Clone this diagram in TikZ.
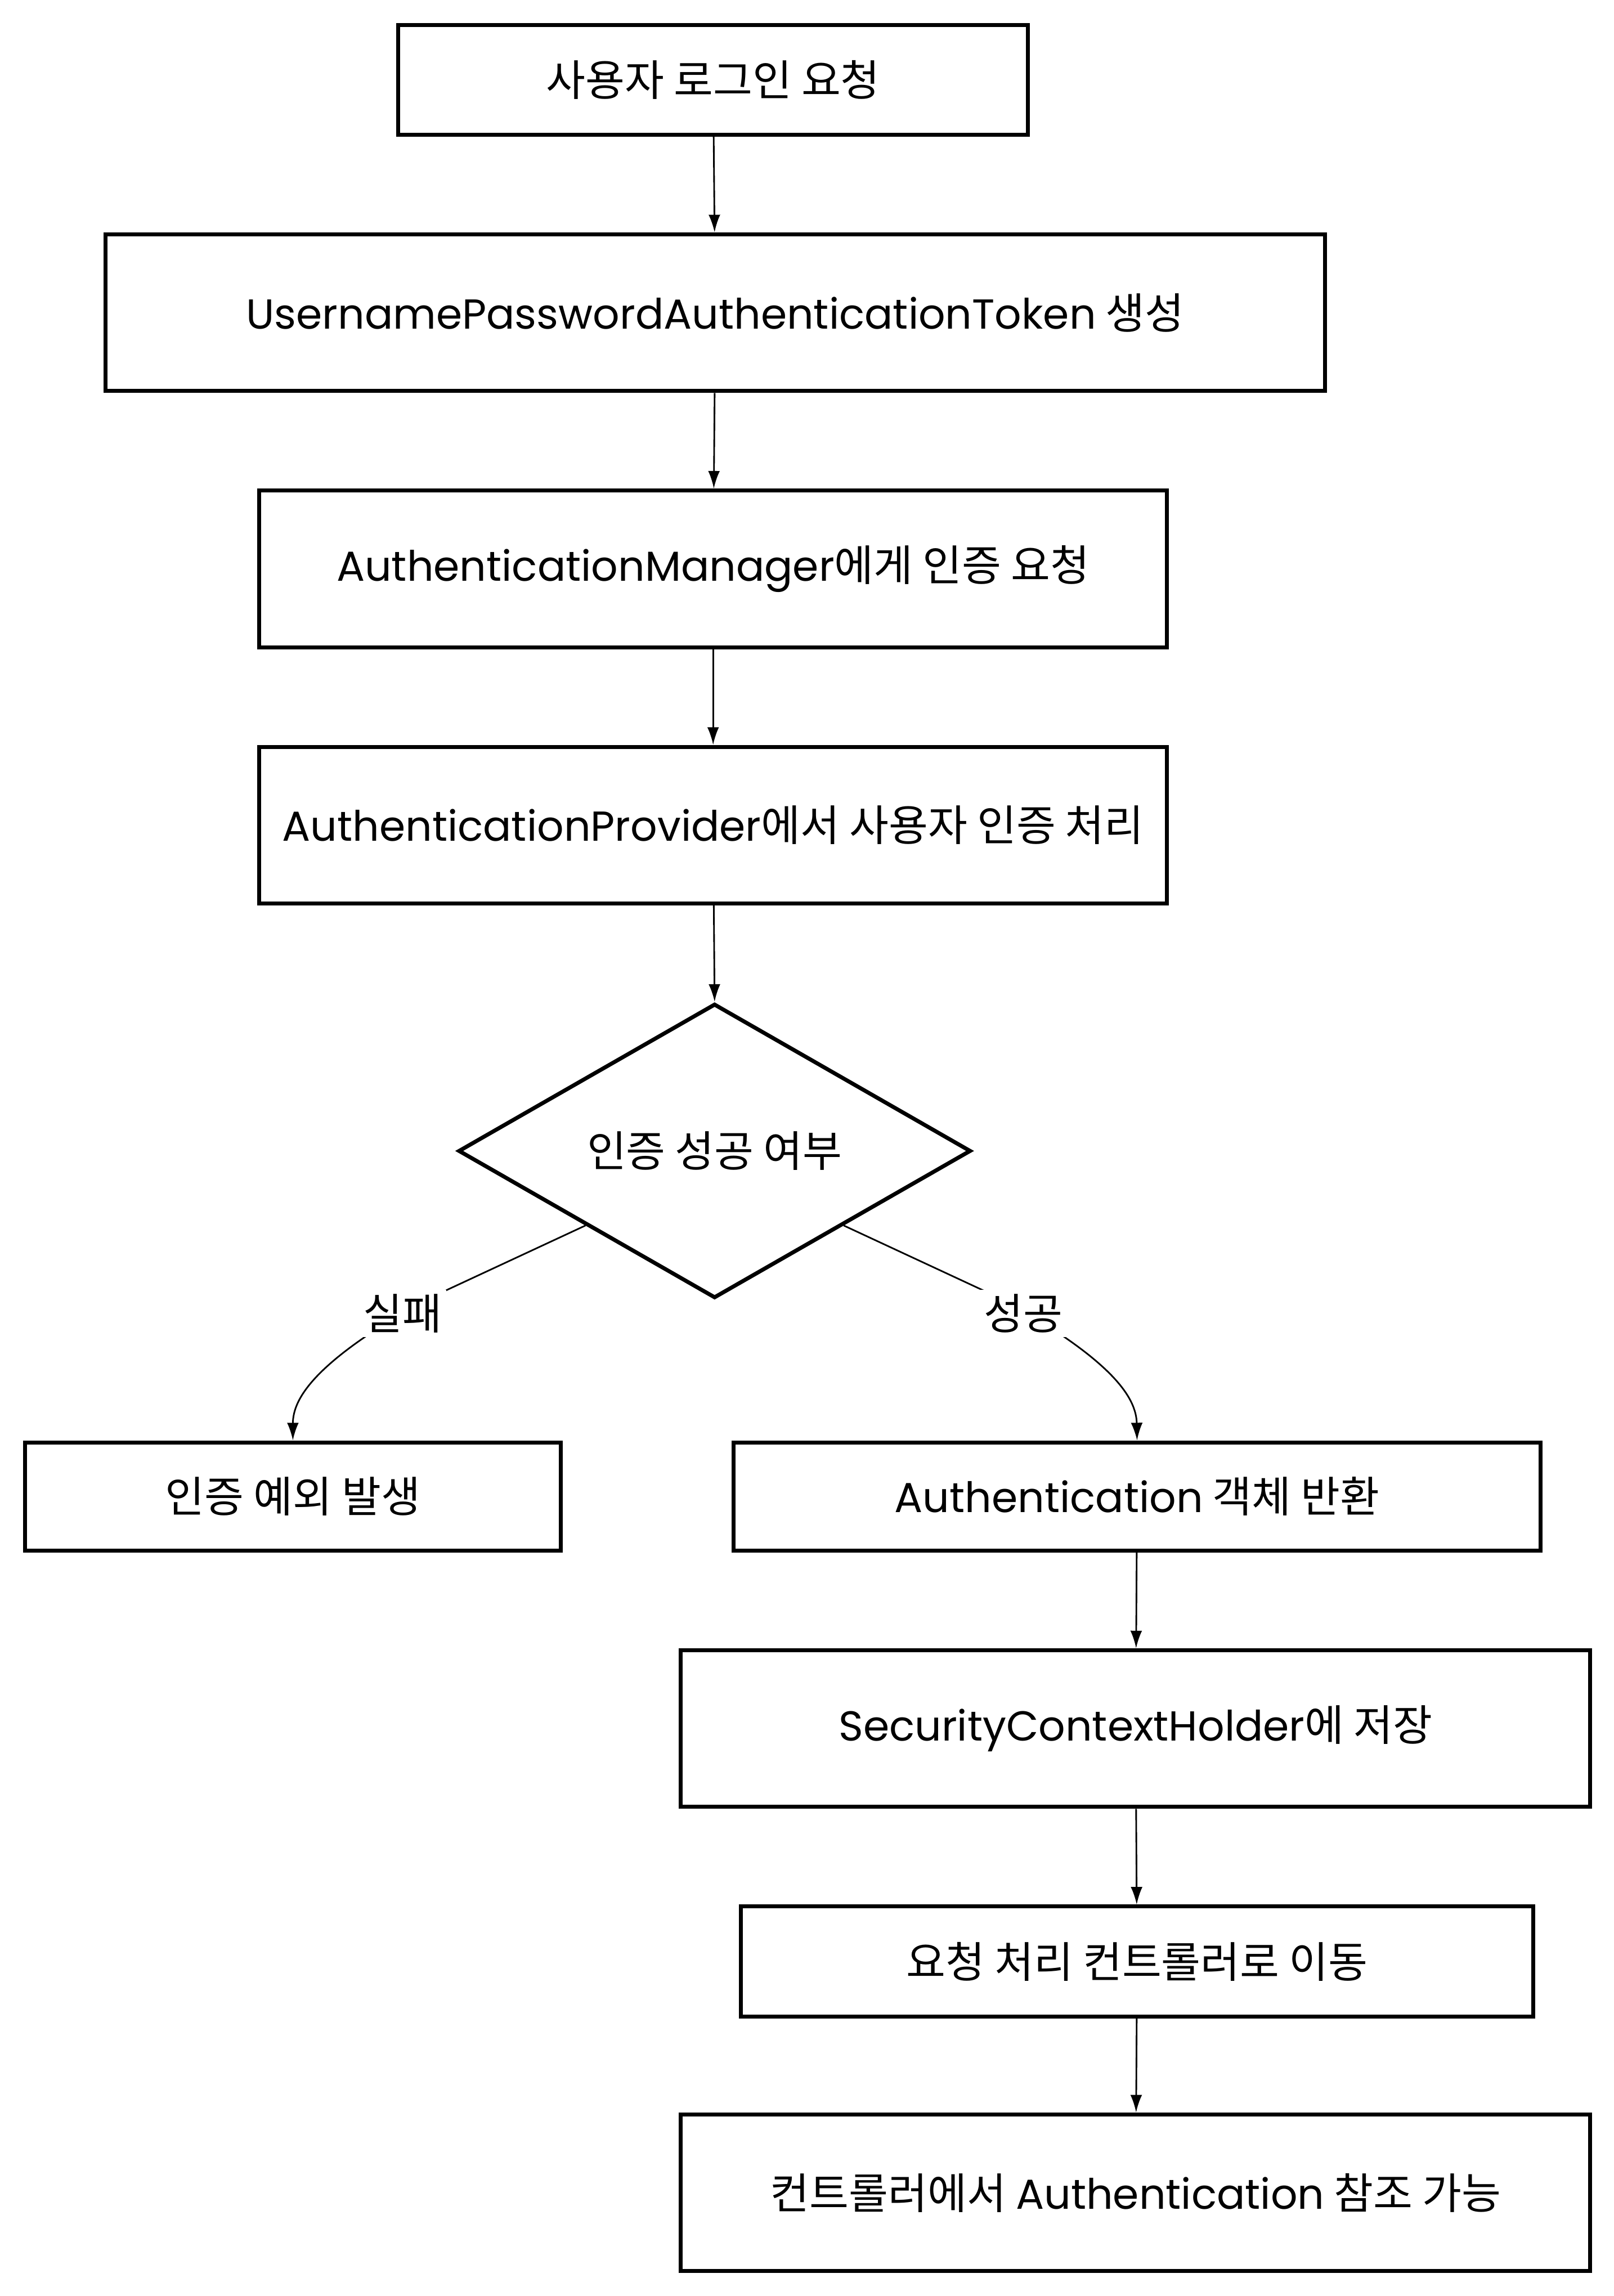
\documentclass[tikz,border=0pt]{standalone}
\usepackage{fontspec}
\setmainfont{Noto Sans CJK KR}
\newfontfamily\lat[Scale=0.98]{Poppins}
\usetikzlibrary{shapes.geometric,arrows.meta}
\tikzset{
  box/.style={draw=black,line width=1.35pt,rectangle,inner sep=0pt,font=\fontsize{14.6}{17}\selectfont},
  dec/.style={draw=black,line width=1.35pt,diamond,aspect=1.75,inner sep=0pt,minimum width=175pt,minimum height=100.5pt,font=\fontsize{14.6}{17}\selectfont},
  edge/.style={draw=black,line width=0.55pt,-{Latex[length=6pt,width=4pt]}},
  elabel/.style={fill=white,inner sep=1.5pt,font=\fontsize{14.6}{17}\selectfont}
}
\begin{document}
\begin{tikzpicture}[x=0.5pt,y=-0.5pt]
\useasboundingbox[fill=white] (0,0) rectangle (1102,1568);
\node[box,minimum width=215pt,minimum height=37.5pt] (b1) at (487,54.5) {사용자 로그인 요청};
\node[box,minimum width=416.5pt,minimum height=53.5pt] (b2) at (488.5,213.5) {{\lat UsernamePasswordAuthenticationToken} 생성};
\node[box,minimum width=310pt,minimum height=53.5pt] (b3) at (487,388.5) {{\lat AuthenticationManager}에게 인증 요청};
\node[box,minimum width=310pt,minimum height=53.5pt] (b4) at (487,563.5) {{\lat AuthenticationProvider}에서 사용자 인증 처리};
\node[dec] (d) at (488,786) {인증 성공 여부};
\node[box,minimum width=183pt,minimum height=37pt] (fail) at (200,1022) {인증 예외 발생};
\node[box,minimum width=275.5pt,minimum height=37pt] (succ) at (776.5,1022) {{\lat Authentication} 객체 반환};
\node[box,minimum width=310.5pt,minimum height=53.5pt] (sch) at (775.5,1180.5) {{\lat SecurityContextHolder}에 저장};
\node[box,minimum width=270.5pt,minimum height=37.5pt] (req) at (776.5,1339.5) {요청 처리 컨트롤러로 이동};
\node[box,minimum width=310.5pt,minimum height=53.5pt] (last) at (775.5,1497.5) {컨트롤러에서 {\lat Authentication} 참조 가능};

\draw[edge] (b1) -- (b2);
\draw[edge] (b2) -- (b3);
\draw[edge] (b3) -- (b4);
\draw[edge] (b4) -- (d.north);
\draw[edge] (succ) -- (sch);
\draw[edge] (sch) -- (req);
\draw[edge] (req) -- (last);

\coordinate (fa) at (290,888);
\coordinate (sa) at (686,888);
\draw[edge] (d.south west) -- (fa) .. controls (215,930) and (200,955) .. (fail.north);
\draw[edge] (d.south east) -- (sa) .. controls (761,930) and (776,955) .. (succ.north);
\node[elabel] (lf) at (275,897) {실패};
\node[elabel] (ls) at (699,897) {성공};
\end{tikzpicture}
\end{document}
